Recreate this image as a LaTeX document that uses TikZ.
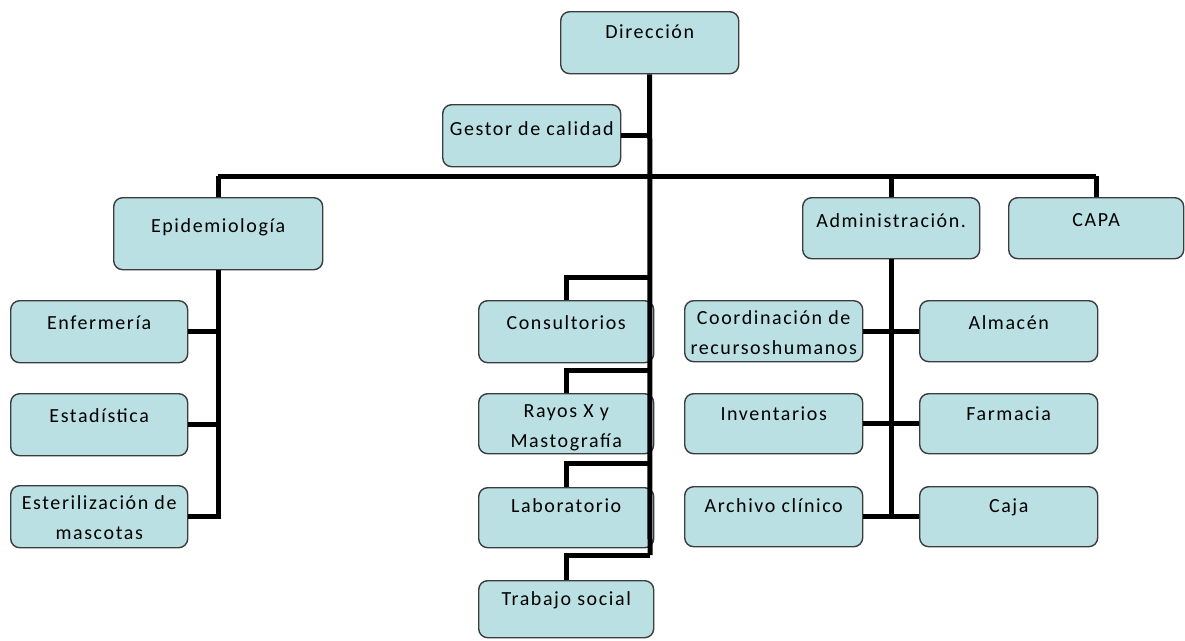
\documentclass[tikz,border=0pt]{standalone}
\usepackage{fontspec}
\newfontfamily\boxfont[LetterSpace=8]{Carlito}
\definecolor{boxfill}{RGB}{186,224,227}
\definecolor{boxline}{RGB}{60,60,60}
\newcommand{\bxt}[4]{\parbox[c][#1pt][t]{#2pt}{\centering\boxfont\fontsize{20}{30}\selectfont\rule{0pt}{#3pt}#4}}
\begin{document}
\begin{tikzpicture}[x=1pt,y=-1pt,
  box/.style={draw=boxline, fill=boxfill, line width=1.4pt, rounded corners=9pt,
    inner sep=0pt, anchor=north west},
  conn/.style={line width=5pt, draw=black, line join=miter}]
\useasboundingbox (0,0) rectangle (1185,640);
\coordinate (mb) at (650,555);
\coordinate (hl) at (216,176);
% boxes
\node[box] (dir) at (560,11) {\bxt{62}{178}{27}{Dirección}};
\node[box] (gestor) at (442,104) {\bxt{62}{178}{31}{Gestor de calidad}};
\node[box] (epi) at (113,197) {\bxt{72}{209}{35}{Epidemiología}};
\node[box] (admin) at (802,197) {\bxt{61}{177}{30}{Administración.}};
\node[box] (capa) at (1008,197) {\bxt{61}{175}{29}{CAPA}};
\node[box] (enf) at (10,300) {\bxt{62}{177}{29}{Enfermería}};
\node[box] (est) at (10,393) {\bxt{62}{177}{29}{Estadística}};
\node[box] (este) at (10,485) {\bxt{62}{177}{24}{Esterilización de\\mascotas}};
\node[box] (cons) at (478,300) {\bxt{62}{175}{29}{Consultorios}};
\node[box] (rayos) at (478,393) {\bxt{60}{175}{24}{Rayos X y\\Mastografía}};
\node[box] (lab) at (478,487) {\bxt{60}{175}{25}{Laboratorio}};
\node[box] (trab) at (478,580) {\bxt{57}{175}{25}{Trabajo social}};
\node[box] (coord) at (684,300) {\bxt{61}{178}{24}{Coordinación de\\recursos\hspace{0.08em}humanos}};
\node[box] (alm) at (919,300) {\bxt{61}{178}{29}{Almacén}};
\node[box] (inv) at (684,393) {\bxt{60}{178}{27}{Inventarios}};
\node[box] (farm) at (919,393) {\bxt{60}{178}{27}{Farmacia}};
\node[box] (arch) at (684,486) {\bxt{60}{178}{26}{Archivo clínico}};
\node[box] (caja) at (919,486) {\bxt{60}{178}{26}{Caja}};
% main column
\draw[conn] (dir.south) -- (mb);
\draw[conn] (gestor.east) -- (gestor.east -| mb);
\draw[conn] (epi.north |- hl) -- (capa.north |- hl);
\draw[conn] (epi.north |- hl) -- (epi.north);
\draw[conn] (admin.north |- hl) -- (admin.north);
\draw[conn] (capa.north |- hl) -- (capa.north);
% center branch
\draw[conn] (mb |- 0,277) -| (cons.north);
\draw[conn] (mb |- 0,370) -| (rayos.north);
\draw[conn] (mb |- 0,463) -| (lab.north);
\draw[conn] (mb) -| (trab.north);
% epidemiologia branch
\draw[conn] (epi.south) |- (este.east);
\draw[conn] (enf.east) -- (enf.east -| epi.south);
\draw[conn] (est.east) -- (est.east -| epi.south);
% administracion branch
\draw[conn] (admin.south) -- (admin.south |- arch.east);
\draw[conn] (coord.east) -- (alm.west);
\draw[conn] (inv.east) -- (farm.west);
\draw[conn] (arch.east) -- (caja.west);
\end{tikzpicture}
\end{document}
